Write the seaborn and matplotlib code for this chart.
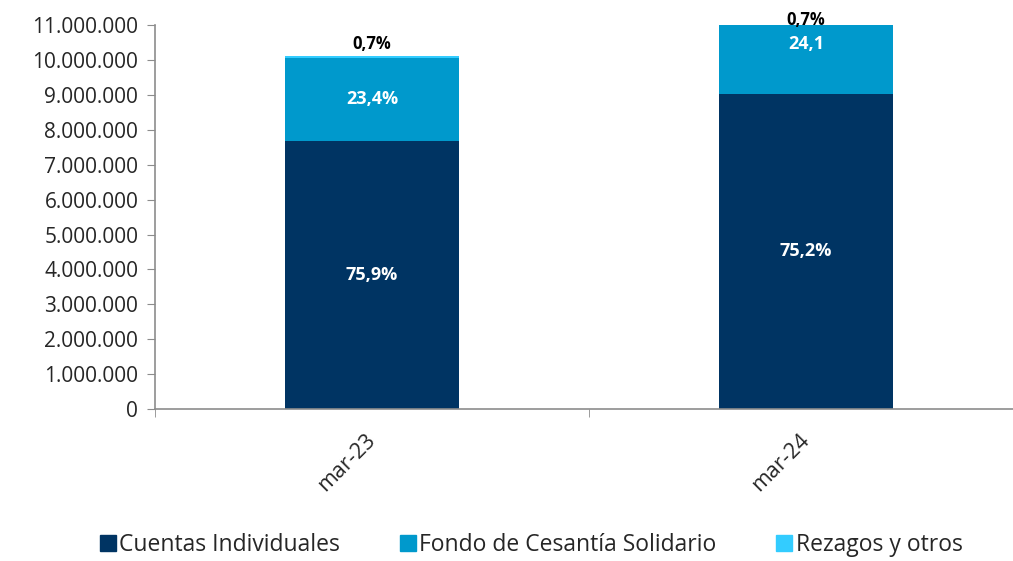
import numpy as np
import seaborn as sns
from matplotlib import pyplot as plt
from matplotlib.lines import Line2D
from matplotlib.ticker import FuncFormatter, FixedLocator

periods = ["mar-23", "mar-24"]
cuentas = [7690000, 9030000]
fondo = [2370000, 2890000]
rezagos = [71000, 84000]
series_names = ["Cuentas Individuales", "Fondo de Cesantía Solidario", "Rezagos y otros"]
series_colors = ["#003463", "#0099CC", "#33CCFF"]
labels_cuentas = ["75,9%", "75,2%"]
labels_fondo = ["23,4%", "24,1"]
labels_rezagos = ["0,7%", "0,7%"]
y_max = 11000000

sns.set_style("white")
plt.rcParams['font.family'] = ['Open Sans', 'DejaVu Sans']

fig = plt.figure(figsize=(10.13, 5.61), dpi=100)
ax = fig.add_axes([0.153, 0.271, 0.857, 0.684])

base = np.array(cuentas)
mid = base + np.array(fondo)
top = mid + np.array(rezagos)

# stacked: draw the tallest cumulative first, smaller ones on top
for vals, col in zip([top, mid, base], series_colors[::-1]):
    sns.barplot(x=periods, y=vals, color=col, width=0.4, ax=ax,
                saturation=1, edgecolor="none")

ax.set_ylim(0, y_max)
ax.set_xlim(-0.5, 1.5)

for i in range(len(periods)):
    ax.text(i, base[i] / 2, labels_cuentas[i], ha="center", va="center",
            color="white", fontsize=13, fontweight="bold")
    ax.text(i, (base[i] + mid[i]) / 2, labels_fondo[i], ha="center", va="center",
            color="white", fontsize=13, fontweight="bold")
    ry = min(top[i] + 60000, y_max - 120000)
    ax.text(i, ry, labels_rezagos[i], ha="center", va="bottom",
            color="black", fontsize=12, fontweight="bold", clip_on=False)

ax.yaxis.set_major_locator(FixedLocator(np.arange(0, y_max + 1, 1000000)))
ax.yaxis.set_major_formatter(FuncFormatter(lambda v, p: f"{int(v):,}".replace(",", ".")))
ax.tick_params(axis="y", labelsize=15, length=6, color="#8c8c8c", left=True, pad=6)

ax.set_xticks([0, 1])
ax.set_xticklabels(periods, rotation=45, fontsize=15.5)
ax.tick_params(axis="x", which="major", length=0, pad=20)
ax.set_xticks([-0.5, 0.5, 1.5], minor=True)
ax.tick_params(axis="x", which="minor", length=6, color="#8c8c8c", bottom=True)
for lbl in ax.get_xticklabels():
    lbl.set_rotation_mode("anchor")
    lbl.set_ha("right")
    lbl.set_va("center")

for s in ["top", "right"]:
    ax.spines[s].set_visible(False)
for s in ["left", "bottom"]:
    ax.spines[s].set_color("#8c8c8c")
    ax.spines[s].set_linewidth(1.2)

ax.set_xlabel("")
ax.set_ylabel("")

handles = [Line2D([0], [0], marker="s", linestyle="none", markersize=11,
                  markerfacecolor=c, markeredgecolor=c) for c in series_colors]
fig.legend(handles, series_names, loc="lower center", ncol=3, frameon=False,
           fontsize=16.5, bbox_to_anchor=(0.521, -0.03), handletextpad=-0.15,
           handlelength=1.3, columnspacing=2.3)

fig.savefig("out.png", dpi=100)
